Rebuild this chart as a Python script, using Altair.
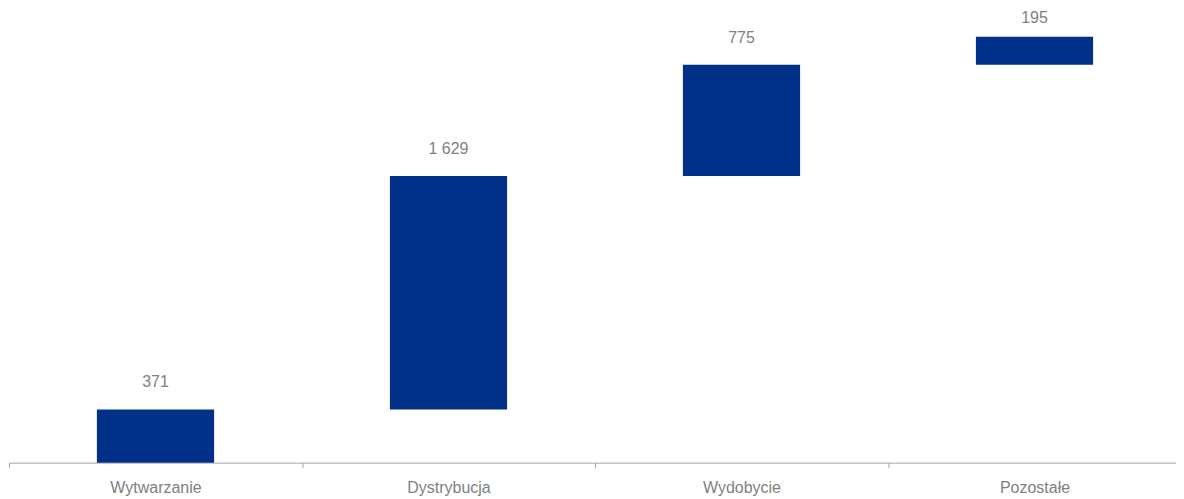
import altair as alt
import pandas as pd

categories = ["Wytwarzanie", "Dystrybucja", "Wydobycie", "Pozostałe"]
values = [371, 1629, 775, 195]

starts, ends, labels = [], [], []
acc = 0
for v in values:
    starts.append(acc)
    acc += v
    ends.append(acc)
    labels.append(f"{v:,}".replace(",", " "))

df = pd.DataFrame({"cat": categories, "start": starts, "end": ends, "label": labels})

x = alt.X("cat:N", sort=categories, title=None,
          scale=alt.Scale(paddingInner=0, paddingOuter=0),
          axis=alt.Axis(labelAngle=0, labelFont="Liberation Sans", labelFontSize=16,
                        labelColor="#808080", domainColor="#a6a6a6", tickColor="#a6a6a6",
                        tickSize=5, tickBand="extent", labelPadding=12, grid=False))
y = alt.Y("start:Q", title=None, scale=alt.Scale(domain=[0, 3168], nice=False), axis=None)

base = alt.Chart(df)
bars = base.mark_bar(color="#003087", width=alt.RelativeBandSize(0.4)).encode(x=x, y=y, y2="end:Q")
text_style = dict(font="Liberation Sans", fontSize=16, color="#808080", baseline="bottom")
text_main = base.transform_filter(alt.datum.cat != categories[-1]).mark_text(dy=-19, **text_style).encode(
    x=alt.X("cat:N", sort=categories), y="end:Q", text="label:N")
text_last = base.transform_filter(alt.datum.cat == categories[-1]).mark_text(dy=-11, **text_style).encode(
    x=alt.X("cat:N", sort=categories), y="end:Q", text="label:N")

chart = (bars + text_main + text_last).properties(
    width=1174, height=455,
    padding={"left": 0, "top": 0, "bottom": 0, "right": -6},
).configure_view(stroke=None)
chart.save("out.html", embed_options={"renderer": "svg", "actions": False})
